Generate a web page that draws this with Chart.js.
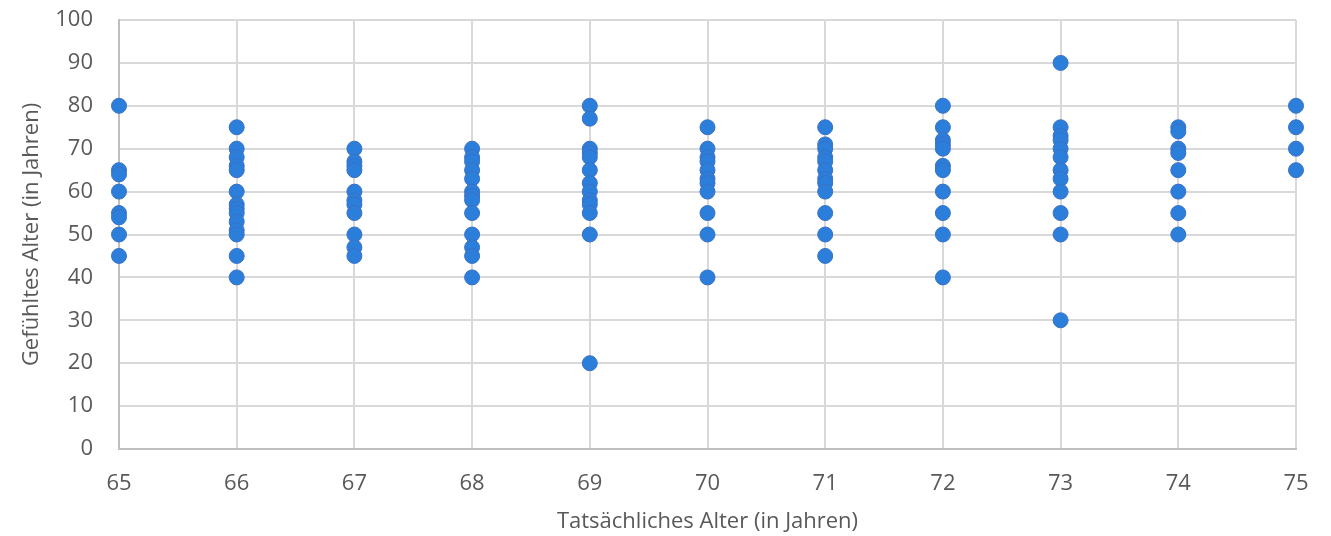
<!DOCTYPE html>
<html lang="de">
<head>
    <meta charset="UTF-8">
    <title>Gefühltes vs. tatsächliches Alter</title>
    <script src="https://cdn.jsdelivr.net/npm/chart.js"></script>
    <style>
        body { margin: 0; background: #fff; }
    </style>
</head>
<body>
    <canvas id="alterChart" width="1331" height="536"></canvas>
    <script>
        // Tatsächliches Alter (x) und gefühlte Alter je Jahrgang (y)
        const ages = [65, 66, 67, 68, 69, 70, 71, 72, 73, 74, 75];
        const felt65 = [80, 65, 64, 60, 55, 54, 50, 45];
        const felt66 = [75, 70, 68, 66, 65, 60, 57, 56, 55, 53, 51, 50, 45, 40];
        const felt67 = [70, 67, 66, 65, 60, 58, 57, 55, 50, 47, 45];
        const felt68 = [70, 68, 67, 65, 63, 60, 59, 58, 55, 50, 47, 45, 40];
        const felt69 = [80, 77, 70, 69, 68, 65, 62, 60, 58, 57, 55, 50, 20];
        const felt70 = [75, 70, 68, 67, 65, 63, 62, 60, 55, 50, 40];
        const felt71 = [75, 71, 70, 68, 67, 65, 63, 62, 60, 55, 50, 45];
        const felt72 = [80, 75, 72, 71, 70, 66, 65, 60, 55, 50, 40];
        const felt73 = [90, 75, 73, 72, 70, 68, 65, 63, 60, 55, 50, 30];
        const felt74 = [75, 74, 70, 69, 65, 60, 55, 50];
        const felt75 = [80, 75, 70, 65];
        const feltByAge = [felt65, felt66, felt67, felt68, felt69, felt70, felt71, felt72, felt73, felt74, felt75];

        const points = [];
        ages.forEach((age, i) => {
            feltByAge[i].forEach(v => points.push({ x: age, y: v }));
        });

        const textColor = '#595959';
        const gridColor = '#d9d9d9';
        const fontFamily = '"Open Sans", Lato, sans-serif';

        const config = {
            type: 'scatter',
            data: {
                datasets: [{
                    label: 'Gefühltes Alter',
                    data: points,
                    backgroundColor: '#2b7fda',
                    borderColor: '#3a70c6',
                    borderWidth: 1,
                    pointRadius: 7.5,
                    pointHoverRadius: 7.5,
                    clip: false
                }]
            },
            options: {
                responsive: false,
                animation: false,
                layout: { padding: { left: 0, right: 35, top: 20, bottom: 0 } },
                plugins: {
                    legend: { display: false },
                    tooltip: { enabled: false }
                },
                scales: {
                    x: {
                        type: 'linear',
                        min: 65,
                        max: 75,
                        ticks: {
                            stepSize: 1,
                            padding: 22,
                            color: textColor,
                            font: { family: fontFamily, size: 22 }
                        },
                        grid: { color: gridColor, lineWidth: 2, drawTicks: false },
                        border: { color: '#bfbfbf', width: 2 },
                        title: {
                            display: true,
                            text: 'Tatsächliches Alter (in Jahren)',
                            color: textColor,
                            font: { family: fontFamily, size: 22 },
                            padding: { top: 0, bottom: 1 }
                        },
                        afterFit: s => {
                            s.height = 87;
                            s.paddingLeft = 0;
                            s.paddingRight = 0;
                        }
                    },
                    y: {
                        min: 0,
                        max: 100,
                        ticks: {
                            stepSize: 10,
                            padding: 26,
                            color: textColor,
                            font: { family: fontFamily, size: 22 }
                        },
                        grid: { color: gridColor, lineWidth: 2, drawTicks: false },
                        border: { color: '#bfbfbf', width: 2 },
                        title: {
                            display: true,
                            text: 'Gefühltes Alter (in Jahren)',
                            color: textColor,
                            font: { family: fontFamily, size: 22 },
                            padding: { top: 19, bottom: 0 }
                        },
                        afterFit: s => {
                            s.width = 119;
                            s.paddingTop = 0;
                            s.paddingBottom = 0;
                        }
                    }
                }
            }
        };

        new Chart(document.getElementById('alterChart'), config);
    </script>
</body>
</html>
